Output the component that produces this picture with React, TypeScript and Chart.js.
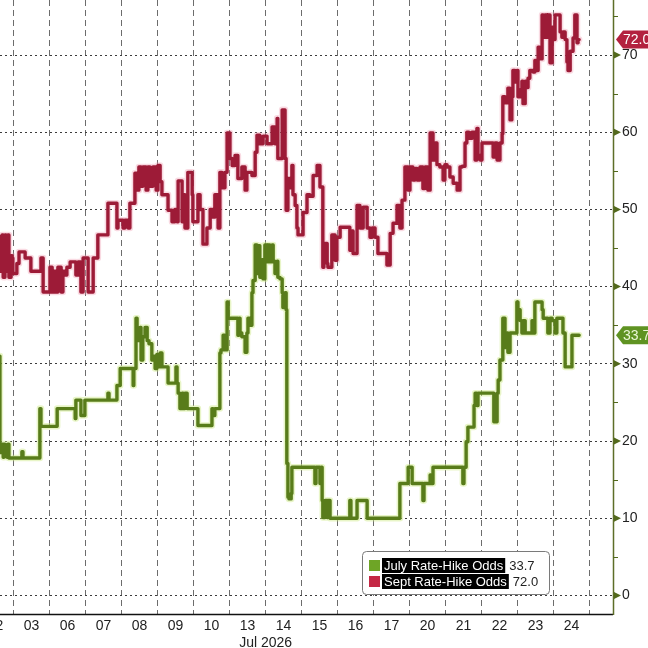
import React, { useEffect, useRef } from "react";
import { Chart, registerables } from "chart.js";
Chart.register(...registerables);

// Trading days shown on the x axis (one slot per session)
const DAY_LABELS = ["02", "03", "06", "07", "08", "09", "10", "13", "14", "15", "16", "17", "20", "21", "22", "23", "24"];
const MONTH_LABEL = "Jul 2026";
const MONTH_AT = 8; // boundary between 13 and 14
const Y_TICKS = [0, 10, 20, 30, 40, 50, 60, 70];
const SERIES_NAMES = ["July Rate-Hike Odds", "Sept Rate-Hike Odds"];
const LAST_VALUES = [33.7, 72.0];

// time in trading-day units (day 02 = 0..1, 03 = 1..2, ...)
const JULY_T = [
  0.62, 0.65, 0.71, 0.73, 0.76, 0.79, 0.82, 0.84, 0.87, 0.9,
  1.23, 1.26, 1.29, 1.73, 1.76, 1.79, 2.21, 2.23, 2.71, 2.73,
  2.76, 2.87, 2.9, 2.98, 3.01, 3.62, 3.65, 3.68, 3.87, 3.9,
  3.96, 3.98, 4.32, 4.34, 4.4, 4.43, 4.51, 4.54, 4.59, 4.65,
  4.71, 4.76, 4.84, 4.87, 4.93, 4.98, 5.01, 5.07, 5.12, 5.15,
  5.29, 5.32, 5.51, 5.54, 5.57, 5.62, 5.68, 5.71, 5.76, 5.82,
  5.84, 6.12, 6.15, 6.51, 6.54, 6.59, 6.62, 6.73, 6.76, 6.82,
  6.87, 6.93, 6.96, 7.01, 7.23, 7.26, 7.29, 7.34, 7.43, 7.48,
  7.51, 7.57, 7.62, 7.65, 7.71, 7.76, 7.79, 7.84, 7.9, 7.93,
  7.98, 8.04, 8.07, 8.12, 8.18, 8.21, 8.26, 8.32, 8.34, 8.4,
  8.46, 8.48, 8.54, 8.57, 8.59, 8.62, 8.65, 8.71, 8.73, 8.76,
  9.37, 9.4, 9.46, 9.51, 9.54, 9.57, 9.59, 9.65, 9.71, 9.73,
  9.79, 9.84, 10.34, 10.37, 10.4, 10.54, 10.57, 10.82, 10.84, 11.73,
  11.76, 11.96, 11.98, 12.07, 12.09, 12.37, 12.4, 12.46, 12.57, 12.59,
  12.65, 12.73, 13.48, 13.51, 13.57, 13.62, 13.68, 13.79, 13.82, 13.87,
  13.9, 13.96, 14.34, 14.37, 14.43, 14.46, 14.51, 14.59, 14.65, 14.71,
  14.73, 14.79, 14.84, 14.98, 15.01, 15.07, 15.12, 15.15, 15.21, 15.26,
  15.4, 15.43, 15.48, 15.54, 15.68, 15.71, 15.76, 15.84, 15.9, 15.96,
  16.04, 16.09, 16.12, 16.26, 16.32, 16.37, 16.51, 16.54, 16.71,
];
const JULY_V = [
  31, 18.5, 19.6, 17.9, 19.6, 18, 19.2, 17.9, 19.6, 17.8,
  17.8, 18.6, 17.8, 17.8, 24.2, 21.9, 21.9, 24.2, 24.2, 22.9,
  25.3, 25.3, 23.3, 23.3, 25.3, 25.3, 26.2, 25.3, 25.3, 27.2,
  27.2, 29.4, 29.4, 27.2, 29.4, 35.9, 33, 34.7, 30.5, 33.5,
  34.7, 33, 32.6, 30.5, 31, 29.4, 31.2, 29.6, 31.4, 29.6,
  29.6, 27.5, 27.5, 29.6, 27.5, 26.2, 24.2, 26.2, 24.2, 26.2,
  24.2, 24.2, 22, 22, 24.2, 23.3, 24.2, 24.2, 31.4, 31.8,
  33.7, 31.8, 38, 35.9, 35.9, 33.7, 35.9, 34, 33.5, 31.5,
  34, 35.9, 35, 39.2, 40.8, 45.4, 41.7, 45.3, 41.2, 43.5,
  41, 45.4, 43.2, 45.4, 43.2, 45.4, 43.3, 41.7, 43.3, 41.2,
  41, 39.2, 37.3, 39.2, 37, 17.1, 12.7, 12.5, 13.2, 16.6,
  16.6, 14.5, 16.6, 16.6, 14.5, 16.6, 12.3, 10.1, 12.3, 10.1,
  12.3, 10, 10, 12.3, 10, 10, 12.3, 12.3, 10, 10,
  14.5, 14.5, 16.6, 16.6, 14.5, 14.5, 12.3, 14.5, 14.5, 15.6,
  14.5, 16.6, 16.6, 14.5, 16.6, 19.9, 21.8, 21.8, 24.6, 26.2,
  24.6, 26.2, 26.2, 22.5, 22.5, 26.2, 27.9, 30.5, 35.9, 32.1,
  34, 31.5, 34, 34, 38, 37, 35.6, 34, 35.6, 34,
  34, 35.6, 34, 38, 38, 37, 35.9, 35.9, 34, 35.9,
  35.6, 34, 35.9, 35.9, 34, 29.6, 29.6, 33.7, 33.7,
];

const SEPT_T = [
  0.62, 0.68, 0.71, 0.76, 0.79, 0.84, 0.87, 0.93, 0.96, 0.98,
  1.09, 1.15, 1.32, 1.48, 1.76, 1.82, 2.01, 2.07, 2.12, 2.18,
  2.23, 2.32, 2.37, 2.43, 2.48, 2.57, 2.73, 2.79, 2.87, 2.93,
  3.07, 3.21, 3.34, 3.62, 3.87, 3.9, 4.04, 4.09, 4.18, 4.23,
  4.37, 4.43, 4.48, 4.54, 4.59, 4.68, 4.73, 4.79, 4.87, 4.96,
  5.01, 5.07, 5.12, 5.29, 5.4, 5.48, 5.54, 5.57, 5.68, 5.71,
  5.76, 5.84, 5.96, 5.98, 6.12, 6.18, 6.26, 6.37, 6.46, 6.54,
  6.59, 6.68, 6.73, 6.79, 6.87, 6.93, 7.01, 7.07, 7.15, 7.23,
  7.34, 7.43, 7.48, 7.62, 7.71, 7.76, 7.84, 7.93, 8.04, 8.18,
  8.26, 8.32, 8.34, 8.46, 8.54, 8.57, 8.62, 8.68, 8.73, 8.76,
  8.82, 8.87, 8.9, 9.04, 9.15, 9.23, 9.32, 9.43, 9.51, 9.59,
  9.62, 9.71, 9.73, 9.84, 9.93, 9.98, 10.07, 10.34, 10.4, 10.43,
  10.54, 10.62, 10.71, 10.82, 10.9, 10.96, 11.04, 11.12, 11.37, 11.46,
  11.54, 11.65, 11.73, 11.79, 11.87, 11.96, 12.01, 12.09, 12.15, 12.21,
  12.29, 12.37, 12.43, 12.51, 12.57, 12.65, 12.71, 12.76, 12.84, 12.93,
  12.98, 13.04, 13.12, 13.21, 13.32, 13.4, 13.46, 13.54, 13.59, 13.65,
  13.73, 13.82, 13.87, 13.9, 13.96, 14.01, 14.32, 14.37, 14.43, 14.51,
  14.57, 14.59, 14.65, 14.73, 14.79, 14.84, 14.87, 14.93, 14.98, 15.01,
  15.07, 15.12, 15.15, 15.21, 15.26, 15.29, 15.34, 15.43, 15.48, 15.54,
  15.57, 15.62, 15.68, 15.71, 15.76, 15.82, 15.84, 15.9, 15.96, 15.98,
  16.04, 16.18, 16.23, 16.26, 16.32, 16.37, 16.4, 16.46, 16.54, 16.59,
  16.65, 16.68, 16.71,
];
const SEPT_V = [
  46.5, 42, 46.7, 41.2, 46.7, 42, 46.7, 41.2, 44, 43.7,
  41.7, 43, 44.5, 43.7, 42, 43.7, 39.3, 42.5, 39.3, 42,
  39.3, 42.5, 39.3, 42, 41.5, 42.5, 43.2, 41.5, 43.2, 39.3,
  43.7, 39.3, 43.7, 46.7, 50.8, 47.6, 48.6, 47.6, 48.6, 47.6,
  50.8, 54.7, 52.5, 55.5, 53, 55.5, 52.5, 55.5, 53, 55.5,
  52.5, 55.7, 53.6, 51.9, 49.9, 48.4, 50, 48.4, 53.7, 48.4,
  51.9, 47.6, 54.8, 51.9, 48.4, 51.9, 50, 45.5, 47.6, 50,
  49, 51.9, 47.6, 54.8, 52.8, 54.8, 59.9, 56.6, 55.7, 57,
  54, 55.5, 52.5, 54.8, 54.4, 57.4, 59.6, 58.5, 59.5, 58.5,
  60.7, 58.5, 61.8, 56.6, 62.9, 56.6, 49.9, 54, 52.8, 55.7,
  51.9, 50.5, 47.6, 46.7, 49.6, 51.9, 51.7, 54.4, 55.7, 52.9,
  42.5, 45.6, 43, 42.5, 46.7, 43.4, 46.4, 47.7, 44.7, 47.2,
  44.3, 50.5, 47.6, 50.3, 47.6, 46.4, 47.6, 46.4, 44.3, 42.8,
  46.9, 48.2, 50.5, 47.6, 51.2, 55.5, 52.5, 55.5, 53.8, 55.3,
  53.8, 55.5, 52.7, 55.5, 52.5, 59.9, 56.4, 58.6, 55.8, 55.5,
  53.8, 55.8, 55.5, 54.2, 53.4, 52.5, 55.5, 55.6, 58.6, 60,
  59.2, 60, 56.4, 60.5, 57, 56.4, 58.6, 56.8, 58.6, 56.4,
  58.6, 59.8, 64.6, 63.8, 65.7, 61.6, 64.6, 68, 66.5, 68,
  64.6, 65.5, 66.6, 63.7, 66.6, 65.8, 67, 68, 67.8, 69.3,
  68, 71, 69.5, 75.2, 72.3, 75.2, 72.3, 75.2, 69, 73.6,
  72, 75.2, 73, 72.3, 73, 72, 69.1, 68, 70.5, 72.2,
  75.2, 71.6, 72,
];

const X_MIN = 0.622;
const X_MAX = 17.65;
const Y_MIN = -2.41;
const Y_MAX = 77.13;

const FONT = '"Liberation Sans", Arial, sans-serif';
const JULY_COLOR = "#587c1a";
const JULY_HALO = "rgba(205,232,130,0.45)";
const SEPT_COLOR = "#9d1b37";
const SEPT_HALO = "rgba(238,150,172,0.35)";

const pts = (t: number[], v: number[]) => t.map((x, i) => ({ x, y: v[i] }));

const overlayPlugin = {
  id: "overlay",
  afterDraw(chart: any) {
    const { ctx, chartArea: a, scales } = chart;
    const y = scales.y;
    ctx.save();
    // bottom axis line
    ctx.strokeStyle = "#111";
    ctx.lineWidth = 1.5;
    ctx.beginPath();
    ctx.moveTo(a.left, a.bottom + 0.5);
    ctx.lineTo(a.right, a.bottom + 0.5);
    ctx.stroke();
    // right axis line
    ctx.strokeStyle = "#5d6e28";
    ctx.lineWidth = 1.5;
    ctx.beginPath();
    ctx.moveTo(a.right + 0.5, a.top);
    ctx.lineTo(a.right + 0.5, a.bottom + 1);
    ctx.stroke();
    // major arrows and minor ticks
    ctx.fillStyle = "#53691d";
    ctx.strokeStyle = "#53691d";
    ctx.lineWidth = 1;
    Y_TICKS.forEach((v) => {
      const py = y.getPixelForValue(v);
      ctx.beginPath();
      ctx.moveTo(a.right + 1, py - 3.5);
      ctx.lineTo(a.right + 8, py);
      ctx.lineTo(a.right + 1, py + 3.5);
      ctx.closePath();
      ctx.fill();
    });
    for (let v = 5; v <= 75; v += 10) {
      const py = Math.round(y.getPixelForValue(v)) + 0.5;
      ctx.beginPath();
      ctx.moveTo(a.right, py);
      ctx.lineTo(a.right + 5, py);
      ctx.stroke();
    }
    // last value badges
    const badge = (val: number, bg: string, fg: string) => {
      const py = y.getPixelForValue(val);
      ctx.fillStyle = bg;
      ctx.beginPath();
      ctx.moveTo(a.right + 3, py);
      ctx.lineTo(a.right + 10, py - 9);
      ctx.lineTo(chart.width + 2, py - 9);
      ctx.lineTo(chart.width + 2, py + 9);
      ctx.lineTo(a.right + 10, py + 9);
      ctx.closePath();
      ctx.fill();
      ctx.fillStyle = fg;
      ctx.font = "14px " + FONT;
      ctx.textAlign = "left";
      ctx.textBaseline = "middle";
      ctx.fillText(val.toFixed(1), a.right + 10, py + 1);
    };
    badge(LAST_VALUES[1], "#b3213f", "#ffffff");
    badge(LAST_VALUES[0], "#5f9322", "#eaf7d6");

    // legend
    const lx = 362, ly = 551, lw = 187, lh = 43;
    ctx.fillStyle = "#ffffff";
    ctx.strokeStyle = "#7a7a7a";
    ctx.lineWidth = 1;
    ctx.beginPath();
    (ctx as any).roundRect(lx + 0.5, ly + 0.5, lw, lh, 4);
    ctx.fill();
    ctx.stroke();
    const colors = ["#6ea526", "#c42845"];
    ctx.font = "13px " + FONT;
    ctx.textBaseline = "middle";
    SERIES_NAMES.forEach((name, i) => {
      const cy = ly + 14 + i * 16;
      ctx.fillStyle = colors[i];
      ctx.fillRect(lx + 7, cy - 5, 11, 11);
      const w = ctx.measureText(name).width;
      ctx.fillStyle = "#000";
      ctx.fillRect(lx + 20, cy - 7, w + 4, 15);
      ctx.fillStyle = "#fff";
      ctx.textAlign = "left";
      ctx.fillText(name, lx + 22, cy + 1);
      ctx.fillStyle = "#222";
      ctx.fillText(LAST_VALUES[i].toFixed(1), lx + 28 + w, cy + 1);
    });
    ctx.restore();
  },
};

export default function App() {
  const ref = useRef<HTMLCanvasElement>(null);
  useEffect(() => {
    document.body.style.margin = "0";
    const julyData = pts(JULY_T, JULY_V);
    const septData = pts(SEPT_T, SEPT_V);
    const common = { pointRadius: 0, stepped: "after" as const, borderJoinStyle: "round" as const, borderCapStyle: "round" as const, fill: false };
    const chart = new Chart(ref.current as HTMLCanvasElement, {
      type: "line",
      data: {
        datasets: [
          { ...common, label: SERIES_NAMES[1], data: septData, borderColor: SEPT_COLOR, borderWidth: 3.4 },
          { ...common, label: SERIES_NAMES[0], data: julyData, borderColor: JULY_COLOR, borderWidth: 3.4 },
          { ...common, label: "halo2", data: septData, borderColor: SEPT_HALO, borderWidth: 6.5 },
          { ...common, label: "halo1", data: julyData, borderColor: JULY_HALO, borderWidth: 6.5 },
        ],
      },
      options: {
        animation: false,
        responsive: false,
        maintainAspectRatio: false,
        layout: { padding: 0 },
        plugins: { legend: { display: false }, tooltip: { enabled: false } },
        scales: {
          x: {
            type: "linear",
            min: X_MIN,
            max: X_MAX,
            afterBuildTicks: (s: any) => {
              const t: any[] = [];
              for (let i = 0; i < DAY_LABELS.length; i++) {
                t.push({ value: i + 0.5 });
                t.push({ value: i + 1 });
              }
              s.ticks = t;
            },
            afterFit: (s: any) => {
              s.height = 34;
              s.paddingLeft = 0;
              s.paddingRight = 0;
            },
            grid: {
              color: (c: any) => (c.tick && Number.isInteger(c.tick.value) ? "#6c6c6c" : "rgba(0,0,0,0)"),
              lineWidth: 1,
              drawTicks: false,
            },
            border: { display: false, dash: [6, 4] },
            ticks: {
              autoSkip: false,
              maxRotation: 0,
              padding: 4,
              color: "#222",
              font: { family: FONT, size: 14 },
              callback: (v: any) => {
                const n = Number(v);
                if (Number.isInteger(n)) return n === MONTH_AT ? ["", MONTH_LABEL] : "";
                return DAY_LABELS[Math.floor(n)] ?? "";
              },
            },
          },
          y: {
            type: "linear",
            position: "right",
            min: Y_MIN,
            max: Y_MAX,
            afterBuildTicks: (s: any) => {
              s.ticks = Y_TICKS.map((v) => ({ value: v }));
            },
            afterFit: (s: any) => {
              s.width = 35;
              s.paddingTop = 0;
              s.paddingBottom = 0;
            },
            grid: { color: "#3c3c3c", lineWidth: 1, drawTicks: false },
            border: { display: false, dash: [2, 3] },
            ticks: {
              padding: 9,
              color: "#222",
              font: { family: FONT, size: 14 },
              callback: (v: any) => String(v),
            },
          },
        },
      },
      plugins: [overlayPlugin],
    } as any);
    return () => chart.destroy();
  }, []);
  return (
    <div style={{ width: 648, height: 648, position: "relative", background: "#fff" }}>
      <canvas ref={ref} width={648} height={648} style={{ display: "block", width: 648, height: 648 }} />
    </div>
  );
}
